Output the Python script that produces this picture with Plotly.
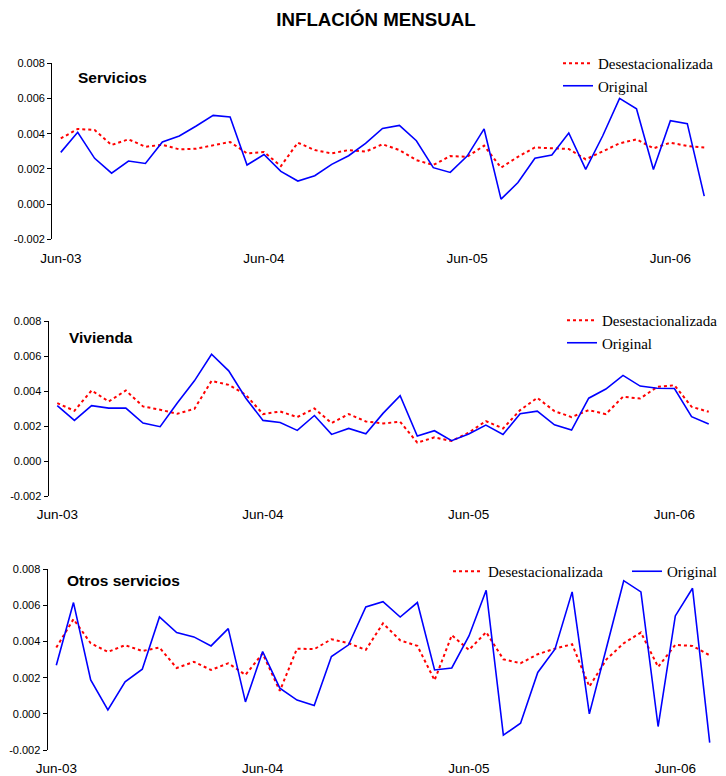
import plotly.graph_objects as go

# page is 726x776; the html body adds an 8px margin, so the figure is
# made smaller and all positions below are given in page pixels
PAGE_W, PAGE_H = 726, 776
OFF = 8
W, H = PAGE_W - OFF, PAGE_H - OFF

months = [
    "Jun-03", "Jul-03", "Aug-03", "Sep-03", "Oct-03", "Nov-03", "Dec-03",
    "Jan-04", "Feb-04", "Mar-04", "Apr-04", "May-04", "Jun-04", "Jul-04",
    "Aug-04", "Sep-04", "Oct-04", "Nov-04", "Dec-04", "Jan-05", "Feb-05",
    "Mar-05", "Apr-05", "May-05", "Jun-05", "Jul-05", "Aug-05", "Sep-05",
    "Oct-05", "Nov-05", "Dec-05", "Jan-06", "Feb-06", "Mar-06", "Apr-06",
    "May-06", "Jun-06", "Jul-06", "Aug-06",
]

servicios_desest = [
    0.00373, 0.00427, 0.00421, 0.00336, 0.00368, 0.00326, 0.00337, 0.00311,
    0.00315, 0.00336, 0.00353, 0.00288, 0.00296, 0.00216, 0.00349, 0.00307,
    0.00288, 0.00307, 0.00298, 0.00340, 0.00307, 0.00250, 0.00222, 0.00273,
    0.00269, 0.00332, 0.00207, 0.00269, 0.00322, 0.00317, 0.00313, 0.00254,
    0.00298, 0.00345, 0.00368, 0.00317, 0.00349, 0.00330, 0.00322,
]
servicios_orig = [
    0.00294, 0.00408, 0.00260, 0.00176, 0.00245, 0.00231, 0.00353, 0.00387,
    0.00444, 0.00504, 0.00495, 0.00222, 0.00282, 0.00186, 0.00131, 0.00161,
    0.00226, 0.00275, 0.00345, 0.00430, 0.00447, 0.00360, 0.00207, 0.00180,
    0.00273, 0.00427, 0.00028, 0.00123, 0.00260, 0.00279, 0.00404, 0.00197,
    0.00387, 0.00601, 0.00542, 0.00197, 0.00474, 0.00457, 0.00045,
]

vivienda_desest = [
    0.00331, 0.00287, 0.00403, 0.00340, 0.00403, 0.00312, 0.00293, 0.00270,
    0.00298, 0.00458, 0.00435, 0.00378, 0.00268, 0.00283, 0.00251, 0.00300,
    0.00217, 0.00268, 0.00226, 0.00215, 0.00224, 0.00105, 0.00135, 0.00114,
    0.00162, 0.00228, 0.00186, 0.00291, 0.00361, 0.00285, 0.00251, 0.00291,
    0.00268, 0.00367, 0.00357, 0.00424, 0.00433, 0.00310, 0.00281,
]
vivienda_orig = [
    0.00316, 0.00232, 0.00316, 0.00302, 0.00302, 0.00217, 0.00196, 0.00331,
    0.00458, 0.00610, 0.00515, 0.00359, 0.00232, 0.00220, 0.00175, 0.00260,
    0.00152, 0.00186, 0.00155, 0.00272, 0.00373, 0.00143, 0.00173, 0.00116,
    0.00154, 0.00205, 0.00152, 0.00270, 0.00285, 0.00207, 0.00177, 0.00359,
    0.00411, 0.00489, 0.00428, 0.00416, 0.00414, 0.00253, 0.00211,
]

otros_desest = [
    0.00367, 0.00524, 0.00391, 0.00343, 0.00380, 0.00348, 0.00367, 0.00254,
    0.00288, 0.00243, 0.00280, 0.00216, 0.00334, 0.00127, 0.00361, 0.00358,
    0.00413, 0.00391, 0.00354, 0.00501, 0.00407, 0.00376, 0.00186, 0.00435,
    0.00354, 0.00452, 0.00302, 0.00280, 0.00330, 0.00361, 0.00385, 0.00151,
    0.00302, 0.00391, 0.00450, 0.00260, 0.00382, 0.00376, 0.00324,
]
otros_orig = [
    0.00269, 0.00616, 0.00188, 0.00022, 0.00177, 0.00247, 0.00536, 0.00450,
    0.00426, 0.00376, 0.00472, 0.00066, 0.00345, 0.00142, 0.00076, 0.00046,
    0.00317, 0.00382, 0.00592, 0.00621, 0.00536, 0.00616, 0.00243, 0.00254,
    0.00431, 0.00684, -0.00118, -0.00052, 0.00229, 0.00358, 0.00675, 0.00000,
    0.00367, 0.00737, 0.00675, -0.00070, 0.00542, 0.00695, -0.00159,
]

y_ticks = [-0.002, 0.0, 0.002, 0.004, 0.006, 0.008]
y_ticktext = ["-0.002", "0.000", "0.002", "0.004", "0.006", "0.008"]
x_labels = [0, 12, 24, 36]


def fx(p):
    return (p - OFF) / W


def fy(p):
    return 1 - (p - OFF) / H


panels = [
    # title, desest, orig, plot box (left, right, top, bottom), title pos,
    # legend positions (desest, orig)
    ("Servicios", servicios_desest, servicios_orig,
     (52.3, 712.7, 63.3, 239.3), (76, 77), ((558, 47), None)),
    ("Vivienda", vivienda_desest, vivienda_orig,
     (48.7, 717.3, 321, 496), (66.5, 337), ((562, 304), None)),
    ("Otros servicios", otros_desest, otros_orig,
     (47.7, 718.3, 569.3, 750), (65, 580), ((448, 555), (627, 555))),
]

SANS = "Arial, Liberation Sans, sans-serif"
SERIF = "Times New Roman, Liberation Serif, serif"

fig = go.Figure()
xs = list(range(len(months)))
x_range = [-0.5, len(months) - 0.5]
legends = {}


def legend_box(pos):
    return dict(
        x=fx(pos[0]), y=fy(pos[1]), xanchor="left", yanchor="top",
        font=dict(family=SERIF, size=15, color="black"),
        bgcolor="rgba(0,0,0,0)", borderwidth=0, tracegroupgap=0,
    )


leg_count = 0
for i, (name, desest, orig, box, tpos, lpos) in enumerate(panels):
    n = i + 1
    sfx = "" if n == 1 else str(n)

    leg_count += 1
    leg_a = "legend" if leg_count == 1 else f"legend{leg_count}"
    legends[leg_a] = legend_box(lpos[0])
    if lpos[1] is not None:
        leg_count += 1
        leg_b = f"legend{leg_count}"
        legends[leg_b] = legend_box(lpos[1])
    else:
        leg_b = leg_a

    fig.add_trace(go.Scatter(
        x=xs, y=desest, mode="lines", name="Desestacionalizada",
        line=dict(color="#ff0000", width=2, dash="dot"),
        xaxis=f"x{sfx}", yaxis=f"y{sfx}", legend=leg_a,
    ))
    fig.add_trace(go.Scatter(
        x=xs, y=orig, mode="lines", name="Original",
        line=dict(color="#0000ff", width=1.6),
        xaxis=f"x{sfx}", yaxis=f"y{sfx}", legend=leg_b,
    ))

    left, right, top, bottom = box
    xdom = [fx(left), fx(right)]
    ydom = [fy(bottom), fy(top)]
    zero_pos = ydom[0] + 0.2 * (ydom[1] - ydom[0])

    fig.layout[f"xaxis{sfx}"] = dict(
        domain=xdom, range=x_range, anchor=f"y{sfx}",
        showline=False, showgrid=False, zeroline=False, automargin=False,
        tickmode="array", tickvals=x_labels,
        ticktext=[months[k] for k in x_labels],
        ticks="outside", ticklen=6, tickcolor="rgba(0,0,0,0)",
        tickfont=dict(family=SANS, size=13.5, color="black"),
    )
    # axis line through zero with tick marks between categories
    fig.layout[f"xaxis{n + 3}"] = dict(
        overlaying=f"x{sfx}", anchor="free", position=zero_pos,
        domain=xdom, range=x_range, automargin=False,
        showline=True, linecolor="#666666", linewidth=1.3,
        showgrid=False, zeroline=False,
        tickmode="array", tickvals=[k - 0.5 for k in x_labels],
        ticks="outside", ticklen=4, tickcolor="#444444", tickwidth=1,
        showticklabels=False,
    )
    fig.layout[f"yaxis{sfx}"] = dict(
        domain=ydom, range=[-0.002, 0.008], anchor=f"x{sfx}",
        showline=True, linecolor="black", linewidth=1.3,
        showgrid=False, zeroline=False, automargin=False,
        tickmode="array", tickvals=y_ticks, ticktext=y_ticktext,
        ticks="outside", ticklen=4, tickcolor="black",
        tickfont=dict(family=SANS, size=11, color="black"),
    )

    fig.add_annotation(
        text=f"<b>{name}</b>", xref="paper", yref="paper",
        x=fx(tpos[0]), y=fy(tpos[1]), xanchor="left", yanchor="middle",
        showarrow=False, font=dict(family=SANS, size=15.5, color="black"),
    )

fig.update_layout(
    width=W, height=H,
    margin=dict(l=0, r=0, t=0, b=0, autoexpand=False),
    paper_bgcolor="white", plot_bgcolor="white",
    showlegend=True,
    title=dict(
        text="<b>INFLACIÓN MENSUAL</b>", x=fx(376), xanchor="center",
        y=fy(19), yanchor="middle", yref="container",
        font=dict(family=SANS, size=18.7, color="black"),
    ),
    **legends,
)

fig.write_html("out.html")
